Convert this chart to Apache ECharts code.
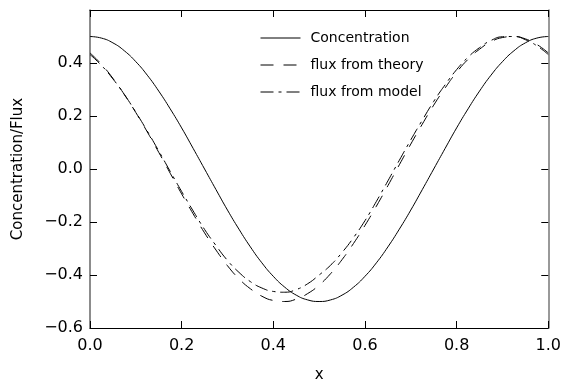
<!DOCTYPE html>
<html>
<head>
<meta charset="utf-8">
<script src="https://cdn.jsdelivr.net/npm/echarts@6/dist/echarts.min.js"></script>
<style>
  html, body { margin: 0; padding: 0; background: #fff; }
  #chart { width: 564px; height: 388px; }
</style>
</head>
<body>
<div id="chart"></div>
<script>
// values, x step 0.025
const xs = [0, 0.025, 0.05, 0.075, 0.1, 0.125, 0.15, 0.175, 0.2, 0.225, 0.25,
            0.275, 0.3, 0.325, 0.35, 0.375, 0.4, 0.425, 0.45, 0.475, 0.5,
            0.525, 0.55, 0.575, 0.6, 0.625, 0.65, 0.675, 0.7, 0.725, 0.75,
            0.775, 0.8, 0.825, 0.85, 0.875, 0.9, 0.925, 0.95, 0.975, 1.0];
const concentration = [0.5, 0.494, 0.476, 0.446, 0.405, 0.354, 0.294, 0.227, 0.155, 0.078, 0,
                       -0.078, -0.155, -0.227, -0.294, -0.354, -0.405, -0.446, -0.476, -0.494, -0.5,
                       -0.494, -0.476, -0.446, -0.405, -0.354, -0.294, -0.227, -0.155, -0.078, 0,
                       0.078, 0.155, 0.227, 0.294, 0.354, 0.405, 0.446, 0.476, 0.494, 0.5];
const fluxTheory = [0.438, 0.395, 0.342, 0.281, 0.213, 0.140, 0.063, -0.016, -0.094, -0.169, -0.241,
                    -0.306, -0.365, -0.414, -0.452, -0.480, -0.496, -0.500, -0.491, -0.470, -0.438,
                    -0.395, -0.342, -0.281, -0.213, -0.140, -0.063, 0.016, 0.094, 0.169, 0.241,
                    0.306, 0.365, 0.414, 0.452, 0.480, 0.496, 0.500, 0.491, 0.470, 0.438];
const fluxModel = [0.432, 0.391, 0.340, 0.281, 0.214, 0.143, 0.068, -0.009, -0.085, -0.158, -0.228,
                   -0.289, -0.345, -0.390, -0.425, -0.449, -0.462, -0.465, -0.455, -0.433, -0.400,
                   -0.363, -0.315, -0.259, -0.195, -0.122, -0.045, 0.033, 0.110, 0.184, 0.255,
                   0.318, 0.375, 0.422, 0.458, 0.485, 0.499, 0.500, 0.488, 0.465, 0.432];
const names = ["Concentration", "flux from theory", "flux from model"];

const font = "DejaVu Sans";
const pair = (ys) => xs.map((x, i) => [x, ys[i]]);
const fmt = (v) => (v < 0 ? "\u2212" : "") + Math.abs(v).toFixed(1);

const frame = (color, width) => ({ show: true, onZero: false, lineStyle: { color: color, width: width } });
const ticks = { show: true, inside: true, length: 7, lineStyle: { color: "#000", width: 1 } };

const lineSeries = (name, ys, type) => ({
  name: name,
  type: "line",
  data: pair(ys),
  smooth: true,
  showSymbol: false,
  symbol: "none",
  itemStyle: { color: "#000" },
  lineStyle: { color: "#000", width: 1, type: type },
});

const myChart = echarts.init(document.getElementById("chart"));
myChart.setOption({
  animation: false,
  grid: { left: 90, right: 15, top: 10, bottom: 52 },
  legend: {
    orient: "vertical",
    left: 255,
    top: 26,
    itemWidth: 40,
    itemHeight: 10,
    itemGap: 13,
    data: names,
    itemStyle: { opacity: 0 },
    lineStyle: { width: 1 },
    textStyle: { fontFamily: font, fontSize: 14, color: "#000", padding: [0, 0, 0, 5] },
  },
  xAxis: [
    {
      type: "value",
      min: 0,
      max: 1,
      interval: 0.2,
      name: "x",
      nameLocation: "middle",
      nameGap: 40,
      nameTextStyle: { fontFamily: font, fontSize: 15, color: "#000" },
      axisLine: frame("#000", 1),
      axisTick: ticks,
      splitLine: { show: false },
      axisLabel: { fontFamily: font, fontSize: 16, color: "#000", margin: 10, formatter: fmt },
    },
    {
      type: "value",
      position: "top",
      min: 0,
      max: 1,
      interval: 0.2,
      axisLine: frame("#000", 1),
      axisTick: ticks,
      splitLine: { show: false },
      axisLabel: { show: false },
    },
  ],
  yAxis: [
    {
      type: "value",
      min: -0.6,
      max: 0.6,
      interval: 0.2,
      name: "Concentration/Flux",
      nameLocation: "middle",
      nameGap: 64,
      nameTextStyle: { fontFamily: font, fontSize: 15, color: "#000" },
      axisLine: frame("#666", 1.5),
      axisTick: ticks,
      splitLine: { show: false },
      axisLabel: {
        fontFamily: font,
        fontSize: 16,
        color: "#000",
        margin: 7,
        formatter: (v) => (v > 0.55 ? "" : fmt(v)),
      },
    },
    {
      type: "value",
      position: "right",
      min: -0.6,
      max: 0.6,
      interval: 0.2,
      axisLine: frame("#777", 1.5),
      axisTick: ticks,
      splitLine: { show: false },
      axisLabel: { show: false },
    },
  ],
  series: [
    lineSeries(names[0], concentration, "solid"),
    lineSeries(names[1], fluxTheory, [13, 10]),
    lineSeries(names[2], fluxModel, [13, 5, 3, 5]),
  ],
});
</script>
</body>
</html>
